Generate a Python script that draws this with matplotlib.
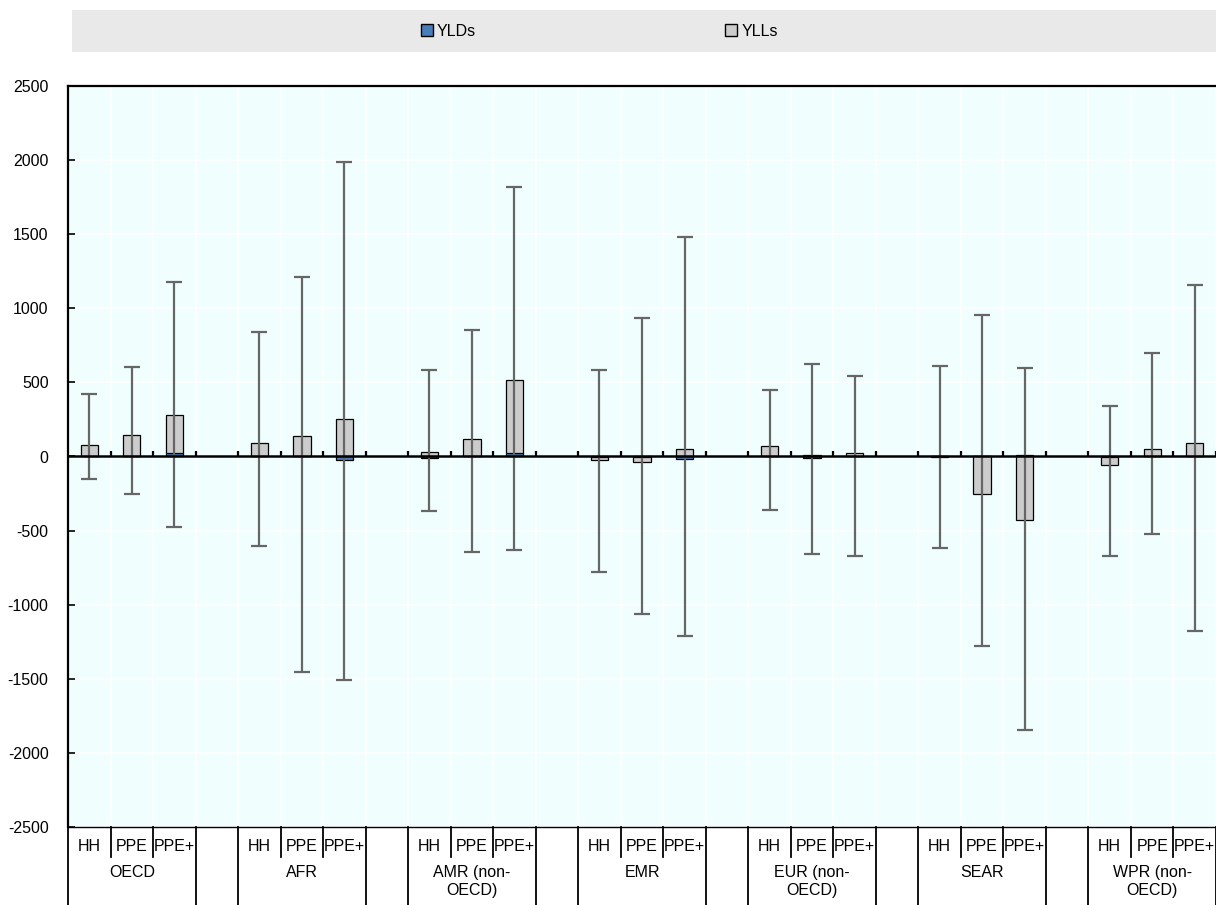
import numpy as np
import matplotlib.pyplot as plt
from matplotlib.patches import Patch, Rectangle
from matplotlib.transforms import blended_transform_factory

plt.rcParams['font.family'] = ['Liberation Sans', 'DejaVu Sans']
plt.rcParams['axes.unicode_minus'] = False

groups = ['OECD', 'AFR', 'AMR (non-\nOECD)', 'EMR', 'EUR (non-\nOECD)', 'SEAR', 'WPR (non-\nOECD)']
subs = ['HH', 'PPE', 'PPE+']

# values per bar, group by group (HH, PPE, PPE+)
yld = [2, 2, 25, 2, 2, -25, -10, 2, 22, -3, -3, -15, 2, -12, 2, -5, 2, 9, -2, 2, 2]
yll = [77, 143, 256, 91, 134, 250, 28, 115, 491, -22, -31, 53, 72, 12, 20, 6, -256, -426, -54, 51, 91]
err_hi = [423, 606, 1177, 840, 1208, 1987, 581, 853, 1820, 581, 933, 1480,
          451, 627, 541, 612, 955, 600, 343, 701, 1159]
err_lo = [-155, -253, -473, -606, -1455, -1505, -371, -643, -630, -776, -1060, -1208,
          -362, -661, -674, -618, -1279, -1848, -674, -522, -1177]

yld = np.array(yld, dtype=float)
yll = np.array(yll, dtype=float)
err_hi = np.array(err_hi, dtype=float)
err_lo = np.array(err_lo, dtype=float)

n_slots = 4 * len(groups) - 1
xpos = np.array([4 * g + s for g in range(len(groups)) for s in range(3)])

fig = plt.figure(figsize=(12.16, 9.05), dpi=100)
ax = fig.add_axes([68 / 1216, 78 / 905, 1 - 68 / 1216, 741 / 905])
ax.set_facecolor('#F0FEFE')

# legend band
fig.patches.append(Rectangle((72 / 1216, 1 - 52 / 905), 1 - 72 / 1216, 42 / 905,
                             transform=fig.transFigure, facecolor='#E9E9E9',
                             edgecolor='none', zorder=0))

same_sign = np.sign(yld) == np.sign(yll)
yll_bottom = np.where(same_sign, yld, 0)

w = 0.41
ax.bar(xpos, yld, w, color='#4A7EBB', edgecolor='black', linewidth=0.9, zorder=3, label='YLDs')
ax.bar(xpos, yll, w, bottom=yll_bottom, color='#CCCCCC', edgecolor='black', linewidth=0.9,
       zorder=3, label='YLLs')

total = yld + yll
ax.errorbar(xpos, total, yerr=[total - err_lo, err_hi - total], fmt='none',
            ecolor='#666666', elinewidth=1.6, capsize=5.5, capthick=1.6, zorder=4)

ax.set_xlim(-0.5, n_slots - 0.5)
ax.set_ylim(-2500, 2500)
ax.set_yticks(np.arange(-2500, 2501, 500))
ax.tick_params(axis='y', direction='in', length=5, width=1.2, pad=14, labelsize=11.5)
ax.set_xticks([])
bounds = np.arange(n_slots) + 0.5
ax.set_xticks(np.concatenate([[-0.5], bounds]), minor=True)
ax.tick_params(axis='x', which='minor', length=0, labelbottom=False)
ax.grid(True, which='major', axis='y', color='white', linewidth=1.2, zorder=0)
ax.grid(True, which='minor', axis='x', color='white', linewidth=1.2, zorder=0)
ax.set_axisbelow(True)

for side in ['left', 'top']:
    ax.spines[side].set_linewidth(1.6)
ax.spines['bottom'].set_linewidth(1.0)
ax.spines['right'].set_visible(False)

ax.axhline(0, color='black', linewidth=1.8, zorder=5)
ax.vlines(bounds, 0, 38, color='black', linewidth=1.6, zorder=5)

# two-level category labels below the plot
tr = blended_transform_factory(ax.transData, ax.transAxes)
row1 = -30 / 741
row2 = -78 / 741
for g, name in enumerate(groups):
    x0 = 4 * g - 0.5
    for s, sub in enumerate(subs):
        ax.text(4 * g + s, -19 / 741, sub, transform=tr, ha='center', va='center',
                fontsize=11.5, clip_on=False)
        if s > 0:
            ax.plot([x0 + s, x0 + s], [0, row1], transform=tr, color='black',
                    linewidth=1.3, clip_on=False)
    ax.text(4 * g + 1, -38 / 741, name, transform=tr, ha='center', va='top',
            fontsize=11.5, linespacing=1.25, clip_on=False)
    for xb in [x0, x0 + 3]:
        ax.plot([xb, xb], [0, row2], transform=tr, color='black',
                linewidth=1.3, clip_on=False)

handles = [Patch(facecolor='#4A7EBB', edgecolor='black', label='YLDs'),
           Patch(facecolor='#CCCCCC', edgecolor='black', label='YLLs')]
fig.legend(handles=handles, loc='center', bbox_to_anchor=(0.493, 1 - 31 / 905), ncol=2,
           frameon=False, fontsize=11.5, handlelength=0.75, handleheight=0.75,
           handletextpad=0.25, columnspacing=15.6)

fig.savefig('out.png', dpi=100)
